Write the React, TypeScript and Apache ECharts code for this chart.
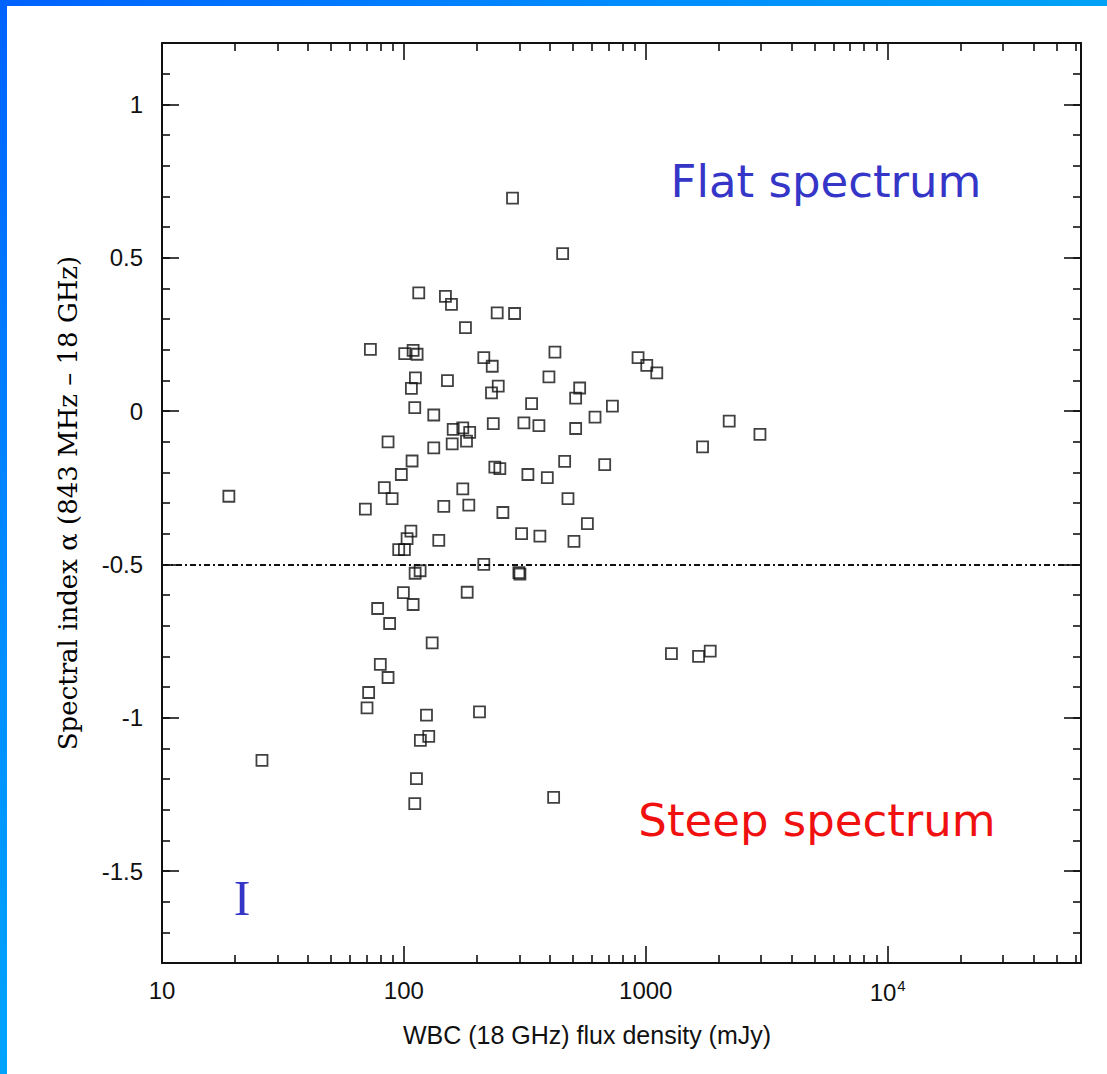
import React, { useEffect, useRef } from "react";
import * as echarts from "echarts";

// WBC (18 GHz) flux density, mJy
const fluxDensity = [
  115.2, 148.5, 157.3, 243.1, 286.8, 179.7, 72.7, 100.8, 109.2, 113.4,
  214.0, 231.9, 421.2, 929.2, 1009.5, 1110.4, 111.6, 107.4, 151.4, 397.8,
  245.5, 230.3, 533.0, 513.0, 337.3, 727.9, 110.9, 132.9, 616.8, 234.2,
  313.4, 361.6, 513.0, 159.9, 175.2, 187.1, 181.5, 158.4, 132.9, 86.0,
  108.1, 97.6, 237.7, 249.3, 325.6, 391.7, 462.0, 676.4, 83.0, 89.4,
  175.2, 69.3, 146.2, 185.5, 256.6, 476.8, 573.6, 306.6, 365.0, 504.8,
  106.9, 103.1, 95.2, 100.5, 139.4, 214.0, 116.7, 111.3, 298.9, 301.8,
  99.5, 182.7, 109.2, 77.9, 87.3, 130.9, 79.9, 86.0, 71.5, 70.4,
  124.0, 205.4, 117.0, 126.7, 112.7, 110.9,
  2213, 2965, 1717, 1277, 1653, 1847, 18.9, 25.9, 281.3, 453.3, 416,
];

// Spectral index alpha (843 MHz - 18 GHz)
const spectralIndex = [
  0.385, 0.374, 0.348, 0.32, 0.318, 0.272, 0.201, 0.187, 0.198, 0.185,
  0.174, 0.146, 0.192, 0.174, 0.149, 0.124, 0.108, 0.074, 0.099, 0.111,
  0.081, 0.059, 0.075, 0.042, 0.024, 0.016, 0.011, -0.013, -0.02, -0.041,
  -0.039, -0.048, -0.057, -0.06, -0.055, -0.07, -0.098, -0.107, -0.12, -0.101,
  -0.163, -0.207, -0.183, -0.188, -0.207, -0.217, -0.164, -0.175, -0.25, -0.286,
  -0.254, -0.32, -0.311, -0.307, -0.331, -0.286, -0.367, -0.4, -0.408, -0.425,
  -0.392, -0.416, -0.452, -0.452, -0.422, -0.5, -0.521, -0.529, -0.527, -0.532,
  -0.592, -0.591, -0.631, -0.644, -0.693, -0.756, -0.826, -0.869, -0.918, -0.968,
  -0.992, -0.981, -1.074, -1.061, -1.199, -1.28,
  -0.033, -0.076, -0.117, -0.791, -0.8, -0.783, -0.278, -1.139, 0.694, 0.513, -1.26,
];

const xMin = 10;
const xMax = 63000;
const yMin = -1.8;
const yMax = 1.2;
const dividingAlpha = -0.5;

const xMajorTicks = [10, 100, 1000, 10000];
const xMinorTicks: number[] = [];
for (const d of [10, 100, 1000, 10000]) {
  for (let k = 2; k <= 9; k++) {
    if (d * k <= xMax) xMinorTicks.push(d * k);
  }
}
const yMajorTicks = [-1.5, -1, -0.5, 0, 0.5, 1];
const yMinorTicks: number[] = [];
for (let i = -17; i <= 11; i++) yMinorTicks.push(i / 10);

const INK = "#111";
const SANS = "'Liberation Sans', Arial, sans-serif";

function xAxisDef(position: "bottom" | "top", ticks: number[], len: number, line: boolean, labels: boolean) {
  return {
    type: "log",
    logBase: 10,
    min: xMin,
    max: xMax,
    position,
    splitLine: { show: false },
    axisLine: { show: line, onZero: false, lineStyle: { color: INK, width: 2 } },
    axisTick: {
      show: true,
      inside: true,
      length: len,
      customValues: ticks,
      lineStyle: { color: INK, width: 1.6 },
    },
    axisLabel: labels
      ? {
          show: true,
          customValues: xMajorTicks,
          margin: 15,
          formatter: (v: number) =>
            v === 10000 ? "{a|10}{b|4}" : "{a|" + String(v) + "}",
          rich: {
            a: { fontSize: 24, fontFamily: SANS, color: INK },
            b: { fontSize: 15, fontFamily: SANS, color: INK, padding: [0, 0, 13, 1] },
          },
        }
      : { show: false },
  };
}

function yAxisDef(position: "left" | "right", ticks: number[], len: number, line: boolean, labels: boolean) {
  return {
    type: "value",
    min: yMin,
    max: yMax,
    position,
    splitLine: { show: false },
    axisLine: { show: line, onZero: false, lineStyle: { color: INK, width: 2 } },
    axisTick: {
      show: true,
      inside: true,
      length: len,
      customValues: ticks,
      lineStyle: { color: INK, width: 1.6 },
    },
    axisLabel: labels
      ? {
          show: true,
          customValues: yMajorTicks,
          margin: 19,
          fontSize: 24,
          fontFamily: SANS,
          color: INK,
        }
      : { show: false },
  };
}

export default function App() {
  const ref = useRef<HTMLDivElement>(null);

  useEffect(() => {
    if (!ref.current) return;
    const chart = echarts.init(ref.current, null, { renderer: "svg" });
    const points = fluxDensity.map((f, i) => [f, spectralIndex[i]]);
    chart.setOption({
      animation: false,
      backgroundColor: "#ffffff",
      grid: { left: 162, top: 43, width: 919, height: 920, containLabel: false },
      xAxis: [
        xAxisDef("bottom", xMajorTicks, 17, true, true),
        xAxisDef("bottom", xMinorTicks, 8, false, false),
        xAxisDef("top", xMajorTicks, 17, true, false),
        xAxisDef("top", xMinorTicks, 8, false, false),
      ],
      yAxis: [
        yAxisDef("left", yMajorTicks, 17, true, true),
        yAxisDef("left", yMinorTicks, 8, false, false),
        yAxisDef("right", yMajorTicks, 17, true, false),
        yAxisDef("right", yMinorTicks, 8, false, false),
      ],
      series: [
        {
          type: "scatter",
          xAxisIndex: 0,
          yAxisIndex: 0,
          symbol: "rect",
          symbolSize: 11,
          itemStyle: { color: "rgba(0,0,0,0)", borderColor: INK, borderWidth: 1.8 },
          data: points,
          markLine: {
            silent: true,
            symbol: ["none", "none"],
            label: { show: false },
            lineStyle: { color: INK, type: [6, 3, 2, 3], width: 1.8 },
            data: [{ yAxis: dividingAlpha }],
          },
        },
      ],
      graphic: [
        {
          type: "text",
          x: 68,
          y: 503,
          rotation: Math.PI / 2,
          style: {
            text: "Spectral index \u03b1 (843 MHz \u2013 18 GHz)",
            fontSize: 26,
            fontFamily: "'DejaVu Serif', serif",
            fill: "#000",
            align: "center",
            verticalAlign: "middle",
          },
        },
        {
          type: "text",
          x: 587,
          y: 1035,
          style: {
            text: "WBC (18 GHz) flux density (mJy)",
            fontSize: 25,
            fontFamily: SANS,
            fill: INK,
            align: "center",
            verticalAlign: "middle",
          },
        },
        {
          type: "text",
          x: 826,
          y: 181,
          style: {
            text: "Flat spectrum",
            fontSize: 45,
            fontFamily: "'DejaVu Sans', sans-serif",
            fill: "#3535c8",
            align: "center",
            verticalAlign: "middle",
          },
        },
        {
          type: "text",
          x: 817,
          y: 820,
          style: {
            text: "Steep spectrum",
            fontSize: 45,
            fontFamily: "'DejaVu Sans', sans-serif",
            fill: "#f01010",
            align: "center",
            verticalAlign: "middle",
          },
        },
        {
          type: "text",
          x: 242,
          y: 898,
          style: {
            text: "I",
            fontSize: 50,
            fontFamily: "'Liberation Serif', serif",
            fill: "#3535c8",
            align: "center",
            verticalAlign: "middle",
          },
        },
      ],
    });
    return () => chart.dispose();
  }, []);

  return (
    <div
      style={{
        position: "fixed",
        left: 0,
        top: 0,
        width: 1107,
        height: 1074,
        background: "#fff",
        overflow: "hidden",
      }}
    >
      <div ref={ref} style={{ position: "absolute", left: 0, top: 0, width: 1107, height: 1074 }} />
      <div
        style={{
          position: "absolute",
          left: 0,
          top: 0,
          width: 1107,
          height: 6,
          background: "linear-gradient(90deg, #0062ff 0%, #0088ff 50%, #00a2f6 100%)",
        }}
      />
      <div
        style={{
          position: "absolute",
          left: 0,
          top: 0,
          width: 7,
          height: 1074,
          background: "linear-gradient(180deg, #0062ff 0%, #0088ff 50%, #00a4ff 100%)",
        }}
      />
    </div>
  );
}
